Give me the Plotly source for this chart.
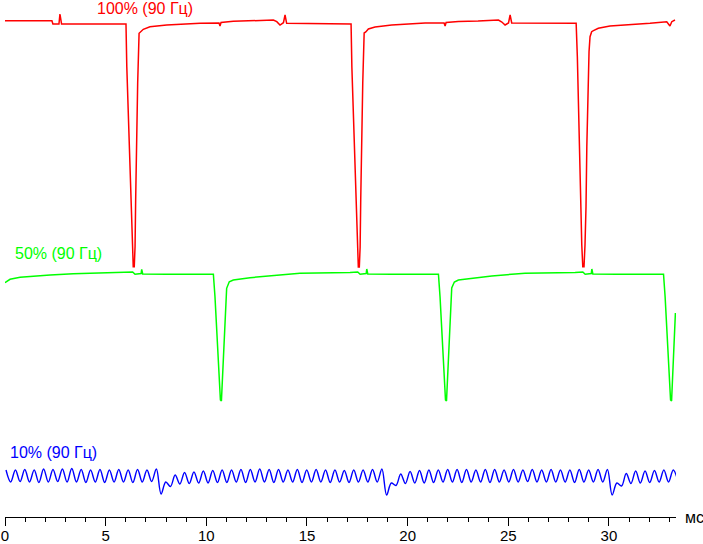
import plotly.graph_objects as go

# ---------------- data ----------------
# time in ms, level in arbitrary display units (trace offsets included)
red_t = [0.00, 2.33, 2.38, 2.68, 2.73, 2.81, 4.72, 6.01, 6.05, 6.13, 6.21, 6.26, 6.32, 6.37, 6.42,
         6.46, 6.49, 6.54, 6.59, 6.66, 6.74, 6.87, 7.20, 8.03, 9.69, 10.63, 10.68, 10.73, 11.34,
         13.33, 13.50, 13.66, 13.83, 13.91, 13.99, 17.14,
         17.19, 17.23, 17.31, 17.39, 17.44, 17.50, 17.55, 17.60, 17.64, 17.67, 17.72, 17.77, 17.84,
         17.92, 18.05, 18.38, 19.21, 20.87, 21.81, 21.86, 21.91, 22.52, 23.50, 24.51, 24.68, 24.84,
         25.01, 25.09, 25.17, 28.37,
         28.43, 28.48, 28.53, 28.60, 28.65, 28.70, 28.76, 28.81, 28.86, 28.90, 28.95, 29.01, 29.06,
         29.14, 29.23, 29.47, 30.05, 30.88, 32.04, 32.87, 33.03, 33.12, 33.28]
red_v = [496.3, 496.3, 493.0, 493.0, 503.0, 493.0, 493.0, 493.0, 450.3, 400.3, 350.3, 310.3, 270.3, 250.3, 250.3,
         270.3, 317.0, 383.7, 433.7, 483.7, 485.3, 487.7, 490.3, 492.0, 493.7, 494.0, 491.0, 494.5, 495.7,
         497.0, 495.3, 492.0, 494.3, 502.0, 493.7, 493.0,
         493.0, 450.0, 400.0, 350.0, 310.0, 270.0, 250.0, 250.0, 270.0, 317.0, 384.0, 434.0, 484.0,
         485.0, 488.0, 490.0, 492.0, 494.0, 494.0, 491.0, 494.5, 495.5, 496.0, 497.0, 495.0, 492.0,
         494.0, 502.0, 494.0, 493.7,
         460.3, 417.0, 360.3, 310.3, 272.0, 250.3, 250.3, 272.0, 310.3, 370.3, 425.3, 465.3, 480.3,
         485.3, 486.3, 488.7, 491.0, 492.0, 493.7, 495.3, 491.0, 495.3, 497.0]

green_t = [0.00, 0.25, 0.75, 1.41, 2.24, 3.39, 4.72, 6.05, 6.34, 6.46, 6.62, 6.76, 6.79, 6.84, 8.03,
           10.02, 10.35, 10.43, 10.52, 10.60, 10.65, 10.70, 10.75, 10.80, 10.88, 10.94, 11.01, 11.14,
           11.34, 12.17, 13.00, 14.16, 14.65, 17.14,
           17.52, 17.64, 17.80, 17.94, 17.97, 18.02, 19.21, 21.20, 21.53, 21.61, 21.70, 21.78, 21.83,
           21.88, 21.93, 21.98, 22.06, 22.12, 22.19, 22.32, 22.52, 23.35, 24.18, 25.34, 25.83, 28.32,
           28.70, 28.82, 28.98, 29.12, 29.15, 29.20, 30.39, 32.38, 32.71, 32.79, 32.88, 32.96, 33.01,
           33.06, 33.11, 33.16, 33.24, 33.30]
green_v = [234.3, 237.7, 239.7, 241.0, 242.0, 243.3, 244.3, 244.7, 245.0, 242.7, 243.3, 243.5, 247.7, 243.0, 242.7,
           243.3, 242.7, 220.3, 187.0, 160.3, 137.0, 117.0, 116.0, 137.0, 167.0, 203.7, 228.7, 235.3,
           237.0, 239.3, 241.0, 243.0, 243.7, 244.5,
           245.0, 242.7, 243.3, 243.5, 248.0, 243.0, 242.7, 243.3, 242.7, 220.0, 187.0, 160.0, 137.0,
           117.0, 116.0, 137.0, 167.0, 204.0, 229.0, 235.0, 237.0, 239.0, 241.0, 243.0, 243.7, 244.5,
           245.0, 242.7, 243.3, 243.5, 248.0, 243.0, 242.7, 243.3, 242.7, 220.0, 187.0, 160.0, 137.0,
           117.0, 116.0, 137.0, 167.0, 204.0]

# blue: sampled every half ripple period starting at blue_t0
blue_t0 = 0.05
blue_dt = 0.2334
blue_v = [47, 35, 47, 35.5, 47.5, 35, 47, 34.5, 48, 35, 47.5, 35.5, 48, 35, 48.5, 35, 47.5, 34.5,
          47, 35, 47.5, 34.5, 47, 35, 47.5, 35, 47, 34.5, 47.5, 35, 47, 35.5, 48,
          23, 35, 30.5,
          42, 33, 44.5, 33.5, 45, 34, 46, 34, 46.5, 34.5, 47, 34.5, 47, 35, 47.5, 34.5, 47.5, 35,
          48, 35, 47.5, 34.5, 47.5, 35, 47, 35, 47.5, 34.5, 47, 35, 47.5, 35, 47, 34.5, 47, 35,
          46.5, 34.5, 47, 35, 47, 35, 47.5, 35, 48,
          22, 34, 31.5,
          43, 33.5, 45.5, 34, 46.5, 34, 47, 34.5, 47, 35, 47.5, 35, 47.5, 34.5, 47.5, 35, 47, 35,
          47.5, 34.5, 47.5, 35, 47, 35, 47.5, 35, 47, 35.5, 47.5, 35, 47, 35, 47.5, 35, 47, 35,
          47, 34.5, 47.5, 35, 47, 35, 47.5, 35, 47.5,
          22, 34, 31,
          43.5, 33.5, 46, 34, 46, 34.5, 46.5, 35, 47, 35, 47, 36]
blue_t = [blue_t0 + i * blue_dt for i in range(len(blue_v))]

labels = ["100% (90 Гц)", "50% (90 Гц)", "10% (90 Гц)"]
label_t = [6.93, 2.68, 2.41]
label_v = [509, 264, 64.3]
colors = ["#ff0000", "#00ff00", "#0000ff"]

x_ticks = [0, 5, 10, 15, 20, 25, 30]
x_unit = "мс"

# ---------------- figure ----------------
FONT = "Liberation Sans, Arial, sans-serif"
fig = go.Figure()
fig.add_trace(go.Scatter(x=red_t, y=red_v, mode="lines",
                         line=dict(color=colors[0], width=1.5), hoverinfo="skip"))
fig.add_trace(go.Scatter(x=green_t, y=green_v, mode="lines",
                         line=dict(color=colors[1], width=1.5), hoverinfo="skip"))
fig.add_trace(go.Scatter(x=blue_t, y=blue_v, mode="lines",
                         line=dict(color=colors[2], width=1.4, shape="spline", smoothing=1.0),
                         hoverinfo="skip"))

for txt, t, v, c in zip(labels, label_t, label_v, colors):
    fig.add_annotation(x=t, y=v, text=txt, showarrow=False, xanchor="center", yanchor="middle",
                       font=dict(family=FONT, size=16, color=c))

fig.add_annotation(xref="paper", x=1, yref="y", y=0, text=x_unit, showarrow=False,
                   xanchor="left", yanchor="middle", xshift=7,
                   font=dict(family=FONT, size=16, color="#000000"))

fig.update_layout(
    width=703, height=544,
    margin=dict(l=5, r=27, t=0, b=27, autoexpand=False),
    paper_bgcolor="white", plot_bgcolor="white",
    showlegend=False,
    xaxis=dict(range=[0, 33.33], showgrid=False, zeroline=False, showline=True,
               linecolor="black", linewidth=1, ticks="outside", ticklen=8, tickcolor="black",
               tickmode="array", tickvals=x_ticks, ticktext=[str(v) for v in x_ticks],
               tickfont=dict(family=FONT, size=15, color="black"), automargin=False,
               ticklabelstandoff=-3,
               minor=dict(dtick=1, tick0=0, ticks="outside", ticklen=4, tickcolor="black", showgrid=False)),
    yaxis=dict(range=[0, 517], visible=False, showgrid=False, zeroline=False),
)

fig.write_html("out.html", config={"displayModeBar": False},
               post_script="document.body.style.margin='0';document.body.style.overflow='hidden';")
